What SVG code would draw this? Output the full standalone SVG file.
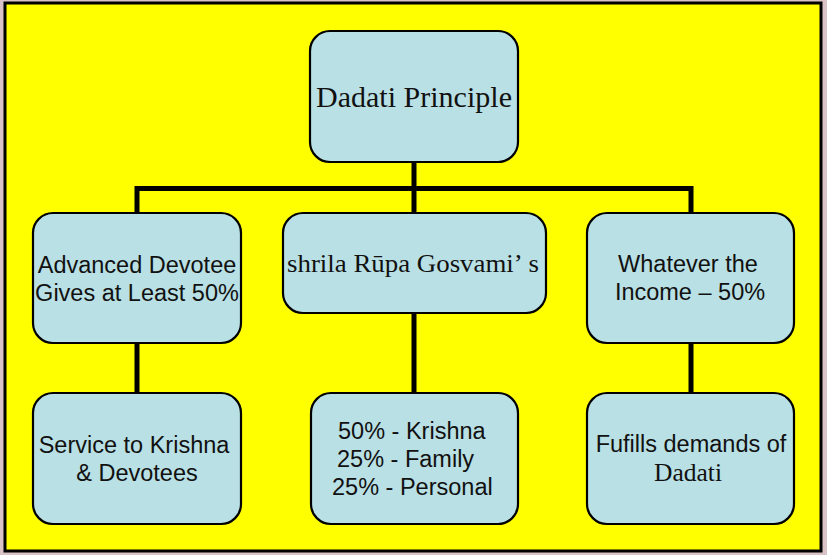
<svg xmlns="http://www.w3.org/2000/svg" width="827" height="555" viewBox="0 0 827 555">
<style>
.node rect{fill:#B9E0E4;stroke:#000;stroke-width:2.2}
.sans{font-family:"Liberation Sans",Arial,sans-serif;font-size:23.5px;fill:#111}
.serif{font-family:"Liberation Serif","Times New Roman",serif;fill:#111}
.conn{fill:none;stroke:#000;stroke-width:5}
</style>
<rect x="0" y="0" width="827" height="555" fill="#d9c3c7"/>
<rect x="5" y="3" width="816" height="548" fill="#FFFF00" stroke="#000" stroke-width="3"/>
<g id="connectors" class="conn">
<path d="M414,162 V188.5"/>
<path d="M137,213 V188.5 H691 V213"/>
<path d="M414,188.5 V213"/>
<path d="M137,343 V393"/>
<path d="M414,313 V393"/>
<path d="M691,343 V393"/>
</g>
<g id="n-top" class="node">
<rect x="310" y="31" width="208" height="131" rx="20"/>
<text class="serif" x="414" y="107" font-size="28.5" text-anchor="middle" textLength="196" lengthAdjust="spacingAndGlyphs">Dadati Principle</text>
</g>
<g id="n-adv" class="node">
<rect x="33" y="213" width="208" height="130" rx="20"/>
<text class="sans" text-anchor="middle"><tspan x="137" y="273">Advanced Devotee</tspan><tspan x="137" y="301">Gives at Least 50%</tspan></text>
</g>
<g id="n-rupa" class="node">
<rect x="283" y="213" width="263" height="100" rx="20"/>
<text class="serif" x="287" y="272" font-size="26" textLength="252" lengthAdjust="spacingAndGlyphs">shrila Rūpa Gosvami’<tspan dx="7">s</tspan></text>
</g>
<g id="n-income" class="node">
<rect x="587" y="213" width="207" height="130" rx="20"/>
<text class="sans" text-anchor="middle"><tspan x="688" y="272">Whatever the</tspan><tspan x="690" y="300">Income – 50%</tspan></text>
</g>
<g id="n-service" class="node">
<rect x="33" y="393" width="208" height="131" rx="20"/>
<text class="sans" text-anchor="middle"><tspan x="134" y="453">Service to Krishna</tspan><tspan x="137" y="481">&amp; Devotees</tspan></text>
</g>
<g id="n-split" class="node">
<rect x="311" y="393" width="207" height="131" rx="20"/>
<text class="sans"><tspan x="338" y="439">50% - Krishna</tspan><tspan x="337" y="467">25% - Family</tspan><tspan x="332" y="495">25% - Personal</tspan></text>
</g>
<g id="n-fulfill" class="node">
<rect x="587" y="393" width="207" height="131" rx="20"/>
<text class="sans" x="691" y="452" text-anchor="middle">Fufills demands of</text>
<text class="serif" x="688" y="481" font-size="25.5" text-anchor="middle">Dadati</text>
</g>
</svg>
